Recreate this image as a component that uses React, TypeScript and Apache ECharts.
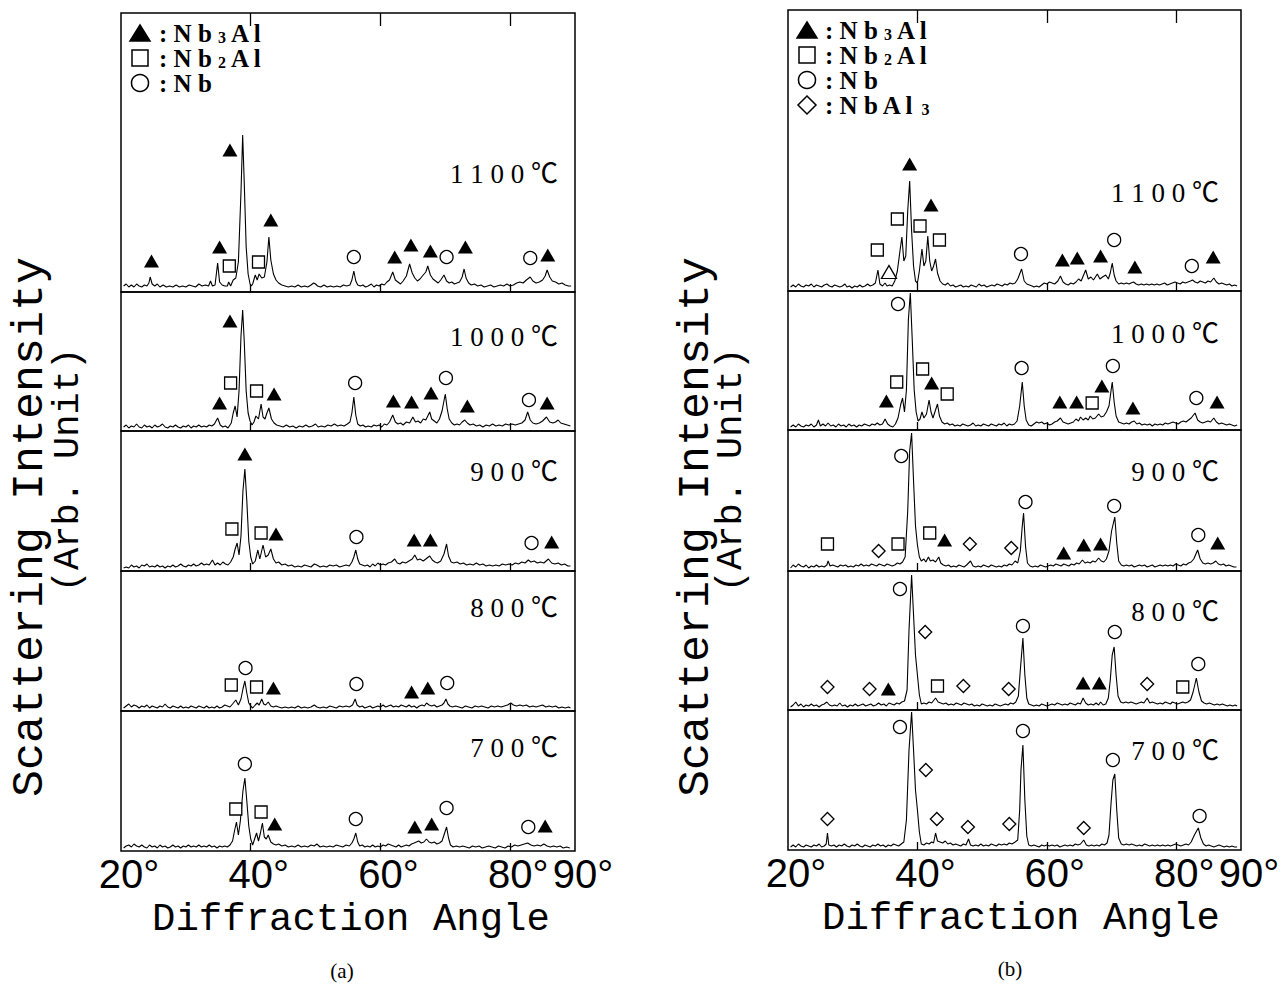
import React, { useEffect, useRef } from 'react';
import * as echarts from 'echarts';

// ---------- tick labels ----------
const TICK_VALUES = [40, 60, 80];
const LABEL_VALUES = [20, 40, 60, 80, 90];

// ---------- temperature labels ----------
const TEMPS_A = ['1 1 0 0 ℃', '1 0 0 0 ℃', '9 0 0 ℃', '8 0 0 ℃', '7 0 0 ℃'];
const TEMPS_B = ['1 1 0 0 ℃', '1 0 0 0 ℃', '9 0 0 ℃', '8 0 0 ℃', '7 0 0 ℃'];

// ---------- panel (a) curves: [angle, intensity] ----------
const a1100Curve = [[20.4,6],[20.8,8],[21.2,5],[21.6,7],[22.0,5],[22.4,8],[22.8,6],[23.2,5],[23.6,7],[24.0,6],[24.3,9],[24.5,15],[24.8,8],[25.2,6],[25.6,8],[26.0,5],[26.5,7],[27.0,5],[27.5,6],[28.0,5],[28.5,7],[29.0,5],[29.5,6],[30.0,5],[30.5,7],[31.0,6],[31.5,5],[32.0,8],[32.5,6],[33.0,7],[33.5,6],[33.8,11],[34.1,6],[34.5,7],[34.9,29],[35.2,10],[35.6,7],[36.0,6],[36.4,6],[36.6,10],[36.9,6],[37.3,12],[37.7,14],[38.1,30],[38.5,100],[38.76,157],[39.0,110],[39.3,45],[39.6,18],[39.9,8],[40.1,6],[40.3,8],[40.7,17],[41.0,12],[41.3,18],[41.7,14],[42.1,15],[42.5,30],[42.8,55],[43.1,32],[43.5,18],[43.9,12],[44.3,9],[44.8,7],[45.3,6],[45.8,5],[46.3,6],[46.8,5],[47.3,7],[47.8,5],[48.3,6],[48.8,5],[49.3,7],[49.7,9],[50.0,8],[50.3,6],[50.8,5],[51.3,7],[51.8,5],[52.3,6],[52.8,5],[53.3,6],[53.8,5],[54.3,7],[54.8,6],[55.3,7],[55.6,12],[55.9,21],[56.2,11],[56.5,7],[56.9,6],[57.3,7],[57.7,5],[58.1,6],[58.6,8],[59.0,5],[59.4,7],[59.8,6],[60.2,8],[60.6,7],[61.0,10],[61.4,12],[61.9,20],[62.3,12],[62.7,10],[63.1,8],[63.5,11],[64.0,16],[64.5,28],[64.9,19],[65.3,14],[65.7,11],[66.1,13],[66.6,17],[67.0,20],[67.3,26],[67.7,17],[68.1,13],[68.5,11],[68.9,9],[69.3,12],[69.8,17],[70.2,11],[70.6,9],[71.0,10],[71.4,8],[71.8,9],[72.2,10],[72.6,15],[72.9,23],[73.2,14],[73.6,9],[74.0,7],[74.5,8],[75.0,6],[75.5,7],[76.0,5],[76.5,6],[77.0,7],[77.5,5],[78.0,6],[78.5,7],[79.0,6],[79.5,8],[80.0,6],[80.5,7],[81.0,9],[81.5,10],[82.0,9],[82.5,12],[83.1,15],[83.5,11],[84.0,9],[84.5,10],[85.0,12],[85.4,16],[85.7,22],[86.1,15],[86.5,11],[87.0,10],[87.5,8],[88.0,9],[88.5,7],[89.0,6],[89.4,6]];
const a1000Curve = [[20.4,4],[20.8,6],[21.2,3],[21.6,5],[22.0,4],[22.4,7],[22.8,4],[23.2,3],[23.6,6],[24.0,4],[24.4,5],[24.8,3],[25.2,6],[25.6,4],[26.0,5],[26.4,7],[26.8,4],[27.2,3],[27.6,5],[28.0,4],[28.4,6],[28.8,4],[29.2,3],[29.6,5],[30.0,4],[30.4,6],[30.8,3],[31.2,5],[31.6,4],[32.0,6],[32.4,4],[32.8,5],[33.2,4],[33.6,6],[34.0,5],[34.4,7],[34.9,13],[35.3,6],[35.7,4],[36.1,5],[36.5,3],[37.0,8],[37.3,18],[37.6,25],[37.9,14],[38.2,40],[38.5,95],[38.76,121],[39.0,90],[39.3,40],[39.6,18],[39.9,10],[40.2,6],[40.5,9],[40.8,15],[41.2,12],[41.6,27],[41.9,14],[42.2,12],[42.5,18],[42.8,23],[43.2,12],[43.6,8],[44.0,6],[44.5,5],[45.0,4],[45.5,6],[46.0,4],[46.5,5],[47.0,3],[47.5,5],[48.0,4],[48.5,6],[49.0,4],[49.5,5],[50.0,7],[50.4,4],[50.9,5],[51.4,4],[51.9,6],[52.4,5],[52.9,7],[53.4,5],[53.9,6],[54.4,5],[54.9,7],[55.3,9],[55.6,18],[55.9,34],[56.2,16],[56.5,7],[56.9,5],[57.3,6],[57.7,4],[58.1,5],[58.6,4],[59.0,6],[59.4,5],[59.8,6],[60.2,4],[60.6,7],[61.0,6],[61.4,9],[61.9,16],[62.3,9],[62.7,7],[63.1,8],[63.5,6],[64.0,9],[64.5,8],[65.0,14],[65.4,9],[65.8,10],[66.2,8],[66.6,12],[67.0,11],[67.3,15],[67.6,19],[67.9,12],[68.3,10],[68.7,8],[69.1,12],[69.5,20],[70.0,37],[70.3,22],[70.6,12],[71.0,8],[71.4,6],[71.8,7],[72.2,6],[72.6,9],[73.0,11],[73.4,8],[73.8,6],[74.3,7],[74.8,5],[75.3,6],[75.8,4],[76.3,6],[76.8,5],[77.3,7],[77.8,5],[78.3,6],[78.8,5],[79.3,7],[79.8,6],[80.3,7],[80.8,6],[81.3,7],[81.8,8],[82.3,11],[82.7,19],[83.1,11],[83.5,8],[84.0,7],[84.5,8],[85.0,10],[85.6,14],[86.1,9],[86.6,8],[87.0,9],[87.4,11],[87.8,8],[88.3,7],[88.8,6],[89.3,5]];
const a900Curve = [[20.4,3],[20.8,4],[21.2,3],[21.6,6],[22.0,4],[22.4,5],[22.8,3],[23.2,6],[23.6,5],[24.0,7],[24.4,4],[24.8,5],[25.2,4],[25.6,6],[26.0,4],[26.4,5],[26.8,3],[27.2,5],[27.6,4],[28.0,6],[28.4,4],[28.8,5],[29.2,7],[29.6,5],[30.0,4],[30.4,6],[30.8,5],[31.2,7],[31.6,5],[32.0,6],[32.4,8],[32.8,6],[33.2,7],[33.6,6],[34.1,11],[34.5,6],[34.9,8],[35.3,6],[35.7,9],[36.1,7],[36.5,6],[36.9,9],[37.3,14],[37.6,22],[37.9,28],[38.2,16],[38.5,35],[38.8,80],[39.1,102],[39.4,70],[39.7,30],[40.0,14],[40.3,7],[40.7,10],[41.1,21],[41.4,12],[41.9,26],[42.3,14],[42.7,16],[43.1,22],[43.5,12],[43.9,8],[44.3,9],[44.8,6],[45.3,7],[45.8,5],[46.3,6],[46.8,4],[47.3,5],[47.8,4],[48.3,6],[48.8,5],[49.3,4],[49.8,7],[50.2,6],[50.7,4],[51.2,5],[51.7,4],[52.2,6],[52.7,5],[53.2,6],[53.7,4],[54.2,5],[54.7,6],[55.2,5],[55.6,9],[55.9,14],[56.2,21],[56.5,12],[56.8,7],[57.2,6],[57.6,5],[58.0,6],[58.4,4],[58.8,7],[59.2,5],[59.6,8],[60.0,6],[60.4,7],[60.8,6],[61.2,8],[61.7,9],[62.2,12],[62.6,8],[63.0,7],[63.4,9],[63.9,8],[64.4,10],[64.9,12],[65.3,16],[65.7,11],[66.1,12],[66.6,10],[67.0,12],[67.6,15],[68.0,11],[68.4,9],[68.8,8],[69.3,10],[69.8,17],[70.2,27],[70.5,15],[70.9,9],[71.3,8],[71.8,9],[72.3,7],[72.8,8],[73.3,6],[73.8,7],[74.3,6],[74.8,8],[75.3,6],[75.8,7],[76.3,5],[76.8,6],[77.3,5],[77.8,6],[78.3,5],[78.8,7],[79.3,6],[79.8,7],[80.3,6],[80.8,8],[81.3,7],[81.8,9],[82.3,8],[82.8,11],[83.2,9],[83.7,10],[84.2,8],[84.7,9],[85.2,8],[85.9,12],[86.4,8],[86.9,7],[87.4,8],[87.9,6],[88.4,7],[88.9,5],[89.3,5]];
const a800Curve = [[20.4,3],[20.8,5],[21.2,7],[21.6,4],[22.0,6],[22.4,5],[22.8,3],[23.2,5],[23.6,4],[24.0,6],[24.4,3],[24.8,5],[25.2,4],[25.6,3],[26.0,5],[26.4,4],[26.8,7],[27.2,4],[27.6,3],[28.0,5],[28.4,4],[28.8,3],[29.2,5],[29.6,3],[30.0,4],[30.4,3],[30.8,5],[31.2,4],[31.6,3],[32.0,5],[32.4,4],[32.8,3],[33.2,5],[33.6,3],[34.0,4],[34.4,3],[34.8,5],[35.2,3],[35.6,4],[36.0,6],[36.4,5],[36.8,4],[37.2,7],[37.7,11],[38.1,6],[38.5,12],[38.8,22],[39.1,30],[39.4,18],[39.7,8],[40.0,5],[40.3,3],[40.7,6],[41.0,8],[41.3,6],[41.7,12],[42.0,7],[42.3,6],[42.7,9],[43.1,5],[43.5,4],[43.9,5],[44.3,4],[44.8,3],[45.3,4],[45.8,3],[46.3,4],[46.8,3],[47.3,5],[47.8,3],[48.3,4],[48.8,3],[49.3,4],[49.8,6],[50.2,4],[50.7,3],[51.2,4],[51.7,3],[52.2,5],[52.7,4],[53.2,3],[53.7,5],[54.2,4],[54.7,5],[55.2,4],[55.7,6],[56.1,12],[56.4,6],[56.8,4],[57.2,5],[57.6,3],[58.0,4],[58.4,5],[58.8,3],[59.2,4],[59.6,5],[60.0,4],[60.4,6],[60.8,4],[61.2,5],[61.6,6],[62.0,4],[62.4,5],[62.8,4],[63.2,6],[63.6,5],[64.0,4],[64.4,6],[64.8,4],[65.2,5],[65.6,3],[66.0,5],[66.4,6],[66.8,5],[67.1,8],[67.5,6],[67.9,5],[68.3,6],[68.7,4],[69.1,5],[69.5,6],[69.8,8],[70.1,12],[70.4,7],[70.7,5],[71.1,4],[71.6,5],[72.1,4],[72.6,3],[73.1,5],[73.6,4],[74.1,3],[74.6,5],[75.1,4],[75.6,5],[76.1,4],[76.6,3],[77.1,5],[77.6,4],[78.1,5],[78.6,4],[79.1,5],[79.6,6],[80.1,8],[80.5,6],[81.0,5],[81.5,6],[82.0,5],[82.5,6],[83.0,4],[83.5,5],[84.0,4],[84.5,5],[85.0,6],[85.5,4],[86.0,5],[86.5,4],[87.0,5],[87.5,3],[88.0,4],[88.5,3],[89.0,4],[89.3,3]];
const a700Curve = [[20.4,3],[20.8,5],[21.2,6],[21.6,4],[22.0,7],[22.4,5],[22.8,4],[23.2,6],[23.6,4],[24.0,3],[24.4,6],[24.8,4],[25.2,5],[25.6,3],[26.0,6],[26.4,4],[26.8,5],[27.2,3],[27.6,4],[28.0,6],[28.4,4],[28.8,5],[29.2,3],[29.6,5],[30.0,4],[30.4,6],[30.8,4],[31.2,5],[31.6,4],[32.0,6],[32.4,4],[32.8,5],[33.2,4],[33.6,6],[34.0,4],[34.4,5],[34.8,3],[35.2,5],[35.6,4],[36.0,5],[36.4,4],[36.8,6],[37.2,10],[37.5,20],[37.8,29],[38.1,16],[38.4,30],[38.8,60],[39.1,73],[39.4,50],[39.7,25],[40.0,12],[40.3,6],[40.6,12],[40.9,18],[41.2,10],[41.5,18],[41.8,28],[42.1,14],[42.4,12],[42.7,16],[43.1,9],[43.5,7],[43.9,6],[44.3,7],[44.8,5],[45.3,6],[45.8,4],[46.3,5],[46.8,4],[47.3,6],[47.8,4],[48.3,5],[48.8,4],[49.3,6],[49.8,5],[50.2,7],[50.7,4],[51.2,5],[51.7,4],[52.2,5],[52.7,4],[53.2,6],[53.7,5],[54.2,4],[54.7,6],[55.2,5],[55.6,8],[55.9,12],[56.2,18],[56.5,9],[56.8,5],[57.2,6],[57.6,4],[58.0,5],[58.4,4],[58.8,6],[59.2,4],[59.6,5],[60.0,4],[60.4,6],[60.8,5],[61.2,7],[61.6,6],[62.0,5],[62.4,4],[62.8,6],[63.2,4],[63.6,5],[64.0,6],[64.4,5],[64.8,7],[65.2,8],[65.9,10],[66.3,8],[66.7,9],[67.1,12],[67.5,9],[67.9,8],[68.3,9],[68.7,7],[69.1,8],[69.5,10],[69.9,18],[70.2,24],[70.5,13],[70.8,6],[71.2,4],[71.7,5],[72.2,4],[72.7,5],[73.2,4],[73.7,3],[74.2,5],[74.7,4],[75.2,5],[75.7,3],[76.2,4],[76.7,5],[77.2,4],[77.7,3],[78.2,5],[78.7,4],[79.2,3],[79.7,5],[80.2,4],[80.7,6],[81.2,5],[81.7,6],[82.2,7],[82.7,8],[83.2,6],[83.7,5],[84.2,6],[84.7,5],[85.2,7],[85.7,5],[86.2,4],[86.7,5],[87.2,4],[87.7,5],[88.2,3],[88.7,4],[89.2,3]];

// ---------- panel (b) curves ----------
const b1100Curve = [[20.4,4],[20.8,6],[21.2,4],[21.6,7],[22.0,5],[22.4,4],[22.8,6],[23.2,5],[23.6,7],[24.0,4],[24.4,6],[24.8,5],[25.2,4],[25.6,6],[26.0,7],[26.4,5],[26.8,4],[27.2,6],[27.6,5],[28.0,4],[28.4,5],[28.8,7],[29.1,4],[29.5,5],[29.9,3],[30.3,5],[30.7,4],[31.1,6],[31.5,4],[31.9,5],[32.3,7],[32.7,5],[33.1,6],[33.5,8],[33.9,21],[34.2,7],[34.6,5],[35.0,8],[35.3,5],[35.7,6],[36.1,5],[36.5,10],[36.9,20],[37.3,40],[37.6,54],[37.9,30],[38.2,35],[38.5,80],[38.8,110],[39.1,60],[39.4,25],[39.7,10],[40.0,8],[40.3,20],[40.7,42],[41.0,25],[41.3,30],[41.6,55],[41.9,30],[42.2,20],[42.5,25],[42.8,32],[43.1,18],[43.5,10],[43.9,7],[44.3,6],[44.7,8],[45.1,5],[45.5,6],[45.9,4],[46.3,5],[46.7,6],[47.1,4],[47.5,5],[47.9,4],[48.3,6],[48.7,5],[49.1,4],[49.5,7],[49.9,5],[50.3,6],[50.7,4],[51.1,5],[51.5,6],[51.9,5],[52.3,7],[52.7,6],[53.1,5],[53.5,7],[53.9,6],[54.3,8],[54.7,7],[55.1,8],[55.5,12],[56.1,22],[56.5,10],[56.9,7],[57.3,6],[57.7,5],[58.0,4],[58.4,5],[58.8,4],[59.2,6],[59.6,8],[60.0,7],[60.4,9],[60.8,8],[61.2,7],[61.7,10],[62.1,15],[62.5,9],[62.9,7],[63.3,6],[63.7,8],[64.1,7],[64.5,9],[64.9,12],[65.3,10],[66.0,21],[66.4,12],[66.8,14],[67.2,11],[67.8,17],[68.2,12],[68.6,14],[69.1,16],[69.5,12],[69.8,18],[70.1,28],[70.4,16],[70.7,10],[71.1,7],[71.5,8],[71.9,7],[72.3,8],[72.7,7],[73.0,8],[73.4,9],[73.8,7],[74.2,6],[74.6,7],[75.0,6],[75.4,7],[75.8,6],[76.2,7],[76.6,6],[77.0,7],[77.4,6],[77.8,7],[78.2,8],[78.6,6],[79.0,7],[79.4,8],[79.8,9],[80.2,8],[80.6,7],[81.0,9],[81.4,8],[81.8,9],[82.2,10],[82.5,11],[82.9,9],[83.3,8],[83.7,10],[84.1,9],[84.5,8],[84.9,10],[85.3,9],[85.8,13],[86.2,9],[86.6,7],[87.0,8],[87.4,7],[87.8,6],[88.2,7],[88.6,5],[89.0,6],[89.4,5]];
const b1000Curve = [[20.4,3],[20.8,5],[21.2,3],[21.6,6],[22.0,4],[22.4,3],[22.8,5],[23.2,4],[23.6,6],[24.0,3],[24.4,5],[24.7,10],[25.0,4],[25.4,6],[25.8,4],[26.2,7],[26.6,4],[27.0,5],[27.4,3],[27.8,6],[28.2,4],[28.6,5],[29.0,3],[29.4,6],[29.8,4],[30.2,5],[30.6,3],[31.0,5],[31.4,4],[31.8,6],[32.2,5],[32.6,4],[33.0,6],[33.4,5],[33.8,7],[34.2,5],[34.6,6],[35.0,11],[35.4,6],[35.8,4],[36.2,3],[36.6,6],[37.0,12],[37.4,25],[37.7,32],[38.0,18],[38.3,40],[38.6,110],[38.9,137],[39.2,90],[39.5,40],[39.8,18],[40.1,9],[40.4,11],[40.7,18],[41.0,12],[41.4,16],[41.8,30],[42.1,18],[42.4,12],[42.8,20],[43.1,26],[43.4,14],[43.8,8],[44.2,6],[44.6,7],[45.0,5],[45.4,6],[45.8,4],[46.2,5],[46.6,4],[47.0,6],[47.4,5],[47.8,4],[48.2,5],[48.6,7],[49.0,4],[49.4,5],[49.8,4],[50.2,6],[50.6,5],[51.0,4],[51.4,6],[51.8,5],[52.2,4],[52.6,6],[53.0,5],[53.4,7],[53.8,4],[54.2,6],[54.6,5],[55.0,6],[55.4,9],[55.8,24],[56.2,48],[56.5,24],[56.8,10],[57.2,5],[57.6,4],[58.0,6],[58.4,8],[58.8,7],[59.2,8],[59.6,6],[60.0,7],[60.4,5],[60.8,6],[61.2,8],[61.6,9],[62.1,12],[62.5,8],[62.9,7],[63.3,6],[63.7,7],[64.1,8],[64.5,11],[64.9,9],[65.2,13],[65.6,10],[66.0,12],[66.4,10],[66.7,14],[67.1,11],[67.5,12],[68.0,16],[68.4,13],[68.8,14],[69.2,18],[69.6,24],[70.1,48],[70.4,28],[70.7,14],[71.1,8],[71.5,7],[71.9,6],[72.3,7],[72.7,6],[73.1,8],[73.5,9],[73.9,6],[74.3,7],[74.7,5],[75.1,6],[75.5,5],[75.9,6],[76.3,4],[76.7,6],[77.1,5],[77.5,6],[77.9,5],[78.3,7],[78.7,6],[79.1,7],[79.5,8],[79.9,7],[80.3,6],[80.7,8],[81.1,9],[81.5,8],[81.9,10],[82.3,12],[82.9,17],[83.3,10],[83.7,8],[84.1,7],[84.5,8],[84.9,9],[85.3,8],[85.8,12],[86.2,8],[86.6,6],[87.0,7],[87.4,6],[87.8,5],[88.2,6],[88.6,5],[89.0,4],[89.4,5]];
const b900Curve = [[20.4,3],[20.8,6],[21.2,4],[21.6,7],[22.0,5],[22.4,4],[22.8,6],[23.2,3],[23.6,5],[24.0,4],[24.4,6],[24.8,4],[25.2,5],[25.6,4],[26.0,6],[26.2,10],[26.5,5],[26.9,6],[27.3,5],[27.7,4],[28.1,6],[28.5,5],[28.9,6],[29.3,4],[29.7,5],[30.1,4],[30.5,6],[30.9,5],[31.3,7],[31.7,5],[32.1,6],[32.5,5],[32.9,7],[33.3,6],[33.7,5],[34.1,7],[34.5,6],[34.9,5],[35.3,7],[35.7,6],[36.1,5],[36.5,6],[36.9,8],[37.3,7],[37.7,9],[38.1,14],[38.5,60],[38.8,120],[39.1,138],[39.4,90],[39.7,45],[40.0,26],[40.3,14],[40.6,10],[41.0,12],[41.3,9],[41.7,14],[42.0,10],[42.4,11],[42.8,9],[43.3,14],[43.6,8],[44.0,6],[44.4,5],[44.8,6],[45.2,4],[45.6,5],[46.0,4],[46.4,6],[46.8,5],[47.2,4],[47.6,6],[48.2,10],[48.6,5],[49.0,4],[49.4,5],[49.8,4],[50.2,6],[50.6,5],[51.0,4],[51.4,6],[51.8,5],[52.2,4],[52.6,5],[53.0,4],[53.4,6],[53.8,5],[54.2,7],[54.6,6],[55.1,10],[55.5,8],[55.9,20],[56.2,45],[56.4,58],[56.7,25],[57.0,8],[57.4,5],[57.8,4],[58.2,5],[58.6,4],[59.0,6],[59.4,5],[59.8,4],[60.2,5],[60.6,6],[61.0,5],[61.4,7],[61.8,6],[62.2,5],[62.6,7],[63.0,6],[63.4,5],[63.8,7],[64.2,6],[64.6,8],[65.0,7],[65.5,11],[65.9,8],[66.3,9],[66.7,8],[67.1,10],[67.5,9],[68.0,13],[68.4,10],[68.8,9],[69.2,12],[69.6,20],[70.0,40],[70.5,54],[70.8,28],[71.1,10],[71.5,6],[71.9,5],[72.3,6],[72.7,5],[73.1,6],[73.5,4],[73.9,5],[74.3,6],[74.7,5],[75.1,6],[75.5,4],[75.9,5],[76.3,6],[76.7,4],[77.1,5],[77.5,6],[77.9,5],[78.3,6],[78.7,5],[79.1,6],[79.5,5],[79.9,7],[80.3,6],[80.7,5],[81.1,7],[81.5,6],[81.9,8],[82.3,9],[82.7,12],[83.3,21],[83.7,12],[84.1,8],[84.5,7],[84.9,8],[85.3,7],[85.7,8],[86.1,10],[86.5,7],[86.9,6],[87.3,7],[87.7,5],[88.1,6],[88.5,5],[88.9,4],[89.3,4]];
const b800Curve = [[20.4,3],[20.8,5],[21.2,8],[21.6,4],[22.0,6],[22.4,3],[22.8,5],[23.2,4],[23.6,6],[24.0,4],[24.4,5],[24.8,3],[25.2,5],[25.6,6],[26.0,8],[26.4,5],[26.8,4],[27.2,5],[27.6,4],[28.0,7],[28.4,4],[28.8,5],[29.2,3],[29.6,5],[30.0,4],[30.4,6],[30.8,4],[31.2,5],[31.6,6],[32.0,4],[32.4,5],[32.8,6],[33.2,4],[33.6,5],[34.0,7],[34.4,5],[34.8,6],[35.2,4],[35.6,7],[36.0,6],[36.4,5],[36.8,7],[37.2,6],[37.6,8],[38.0,9],[38.4,20],[38.7,80],[39.1,135],[39.4,95],[39.7,55],[40.0,35],[40.3,15],[40.6,6],[41.0,7],[41.4,6],[41.8,8],[42.2,7],[42.8,12],[43.2,8],[43.6,7],[44.0,6],[44.4,7],[44.8,5],[45.2,6],[45.6,5],[46.0,7],[46.4,6],[46.8,5],[47.2,7],[47.6,6],[48.0,5],[48.4,6],[48.8,4],[49.2,5],[49.6,4],[50.0,6],[50.4,5],[50.8,4],[51.2,5],[51.6,4],[52.0,6],[52.4,5],[52.8,4],[53.2,5],[53.6,6],[54.0,5],[54.4,7],[54.8,6],[55.2,8],[55.6,14],[55.9,40],[56.3,72],[56.6,35],[56.9,12],[57.2,6],[57.6,5],[58.0,4],[58.4,5],[58.8,4],[59.2,6],[59.6,5],[60.0,4],[60.4,5],[60.8,6],[61.2,5],[61.6,7],[62.0,6],[62.4,5],[62.8,6],[63.2,5],[63.6,7],[64.0,6],[64.4,5],[64.8,7],[65.2,6],[65.6,12],[66.0,7],[66.4,5],[66.8,6],[67.2,5],[67.6,7],[68.0,5],[68.3,8],[68.7,5],[69.1,6],[69.5,12],[69.8,30],[70.1,55],[70.4,63],[70.7,35],[71.0,14],[71.4,8],[71.8,7],[72.2,8],[72.6,7],[73.0,8],[73.4,7],[73.8,6],[74.2,7],[74.6,8],[75.0,7],[75.5,12],[75.9,7],[76.3,8],[76.7,7],[77.1,6],[77.5,7],[77.9,6],[78.3,8],[78.7,7],[79.1,6],[79.4,8],[79.8,7],[80.2,6],[80.6,7],[81.0,8],[81.4,7],[81.8,8],[82.2,10],[82.6,18],[83.1,32],[83.5,18],[83.9,9],[84.3,7],[84.7,6],[85.1,7],[85.5,6],[85.9,5],[86.3,6],[86.7,5],[87.1,6],[87.5,5],[87.9,4],[88.3,5],[88.7,4],[89.1,5],[89.4,4]];
const b700Curve = [[20.4,3],[20.8,5],[21.2,3],[21.6,6],[22.0,4],[22.4,3],[22.8,5],[23.2,4],[23.6,3],[24.0,5],[24.4,4],[24.8,6],[25.2,3],[25.6,4],[25.9,6],[26.1,17],[26.3,5],[26.7,4],[27.1,5],[27.5,3],[27.9,5],[28.3,4],[28.7,6],[29.1,4],[29.5,3],[29.9,5],[30.3,4],[30.7,6],[31.1,4],[31.5,3],[31.9,5],[32.3,4],[32.7,3],[33.1,5],[33.5,4],[33.9,6],[34.3,4],[34.7,5],[35.1,3],[35.5,5],[35.9,4],[36.3,6],[36.7,5],[37.1,4],[37.5,6],[37.9,8],[38.3,30],[38.7,100],[39.1,138],[39.4,100],[39.7,60],[40.0,40],[40.3,18],[40.6,6],[41.0,5],[41.4,7],[41.8,6],[42.2,8],[42.5,7],[42.8,17],[43.1,9],[43.5,8],[43.9,7],[44.3,9],[44.7,6],[45.1,7],[45.5,5],[45.9,6],[46.3,5],[46.7,4],[47.1,6],[47.5,5],[47.9,11],[48.2,5],[48.6,4],[49.0,5],[49.4,4],[49.8,6],[50.2,4],[50.6,5],[51.0,4],[51.4,6],[51.8,5],[52.2,4],[52.6,6],[53.0,5],[53.4,6],[53.8,5],[54.2,7],[54.6,6],[55.1,8],[55.5,10],[55.8,40],[56.0,80],[56.3,105],[56.6,50],[56.9,14],[57.2,5],[57.6,4],[58.0,5],[58.4,4],[58.8,3],[59.2,5],[59.6,4],[60.0,5],[60.4,4],[60.8,5],[61.2,4],[61.6,5],[62.0,3],[62.4,4],[62.8,5],[63.2,4],[63.6,5],[64.0,4],[64.4,6],[64.8,5],[65.2,6],[65.7,10],[66.1,5],[66.5,4],[66.9,5],[67.3,4],[67.7,5],[68.1,4],[68.5,6],[68.9,5],[69.3,7],[69.6,15],[69.9,45],[70.2,70],[70.5,76],[70.8,40],[71.1,12],[71.5,6],[71.9,5],[72.3,6],[72.7,5],[73.1,6],[73.5,5],[73.9,4],[74.3,5],[74.7,4],[75.1,6],[75.5,5],[75.9,4],[76.3,5],[76.7,4],[77.1,5],[77.5,4],[77.9,5],[78.3,4],[78.7,5],[79.1,4],[79.5,5],[79.9,6],[80.3,5],[80.7,4],[81.1,5],[81.5,6],[81.9,5],[82.3,8],[82.8,15],[83.4,22],[83.8,12],[84.2,6],[84.6,4],[85.0,5],[85.4,4],[85.8,3],[86.2,4],[86.6,5],[87.0,4],[87.4,3],[87.8,4],[88.2,3],[88.6,4],[89.0,3],[89.4,3]];

// ---------- phase markers: [angle, height] ----------
const a1100Tri = [[24.7,31],[35.2,45],[36.8,142],[43.1,72],[62.2,35],[64.7,47],[67.7,41],[73.1,45],[85.8,37]];
const a1100Sq = [[36.7,26],[41.2,30]];
const a1100Circ = [[55.9,35],[70.2,35],[83.1,34]];
const a1000Tri = [[35.2,28],[36.8,110],[43.6,37],[62.0,30],[64.8,29],[67.8,38],[73.4,25],[85.7,28]];
const a1000Sq = [[36.9,48],[40.9,40]];
const a1000Circ = [[56.1,48],[70.1,53],[82.9,31]];
const a900Tri = [[39.1,117],[43.9,37],[65.2,31],[67.7,31],[86.4,29]];
const a900Sq = [[37.1,42],[41.6,38]];
const a900Circ = [[56.3,34],[83.3,28]];
const a800Tri = [[43.5,23],[64.8,19],[67.3,23]];
const a800Sq = [[37.0,26],[40.9,24]];
const a800Circ = [[39.2,43],[56.3,27],[70.3,28]];
const a700Tri = [[43.7,27],[65.3,24],[67.9,27],[85.4,25]];
const a700Sq = [[37.7,42],[41.6,39]];
const a700Circ = [[39.1,87],[56.2,32],[70.2,43],[82.8,24]];

const b1100Tri = [[38.8,127],[42.1,86],[62.4,31],[64.7,33],[68.3,35],[73.6,24],[85.7,34]];
const b1100Sq = [[33.8,41],[36.9,72],[40.4,65],[43.4,51]];
const b1100Circ = [[56.0,37],[70.4,51],[82.4,25]];
const b1100OpenTri = [[35.6,19]];
const b1000Tri = [[35.2,29],[42.2,47],[62.0,28],[64.6,28],[68.5,44],[73.3,22],[86.3,28]];
const b1000Sq = [[36.8,48],[40.8,61],[44.6,36],[67.0,27]];
const b1000Circ = [[37.0,126],[56.1,62],[70.2,64],[83.1,32]];
const b900Tri = [[44.2,31],[62.6,18],[65.7,26],[68.3,27],[86.4,28]];
const b900Sq = [[26.1,27],[37.0,27],[41.9,38]];
const b900Circ = [[37.5,115],[56.7,69],[70.4,65],[83.4,36]];
const b900Dia = [[34.0,20],[48.1,27],[54.5,23]];
const b800Tri = [[35.5,21],[65.6,27],[68.1,27]];
const b800Sq = [[43.1,24],[81.0,23]];
const b800Circ = [[37.3,121],[56.3,84],[70.5,78],[83.4,46]];
const b800Dia = [[26.1,23],[32.6,21],[41.2,78],[47.1,24],[54.1,21],[75.5,26]];
const b700Circ = [[37.3,123],[56.3,119],[70.2,90],[83.6,34]];
const b700Dia = [[26.1,31],[41.3,80],[43.0,31],[47.8,23],[54.2,26],[65.7,22]];

// ---------- assembly ----------
type Sub = { curve: number[][]; tri?: number[][]; otri?: number[][]; sq?: number[][]; circ?: number[][]; dia?: number[][] };

const PANELS: Sub[][] = [
  [
    { curve: a1100Curve, tri: a1100Tri, sq: a1100Sq, circ: a1100Circ },
    { curve: a1000Curve, tri: a1000Tri, sq: a1000Sq, circ: a1000Circ },
    { curve: a900Curve, tri: a900Tri, sq: a900Sq, circ: a900Circ },
    { curve: a800Curve, tri: a800Tri, sq: a800Sq, circ: a800Circ },
    { curve: a700Curve, tri: a700Tri, sq: a700Sq, circ: a700Circ },
  ],
  [
    { curve: b1100Curve, tri: b1100Tri, sq: b1100Sq, circ: b1100Circ, otri: b1100OpenTri },
    { curve: b1000Curve, tri: b1000Tri, sq: b1000Sq, circ: b1000Circ },
    { curve: b900Curve, tri: b900Tri, sq: b900Sq, circ: b900Circ, dia: b900Dia },
    { curve: b800Curve, tri: b800Tri, sq: b800Sq, circ: b800Circ, dia: b800Dia },
    { curve: b700Curve, circ: b700Circ, dia: b700Dia },
  ],
];

const LAYOUT = [
  { left: 121, width: 454, tops: [13, 292, 431, 571, 711], heights: [279, 139, 140, 140, 140], tempX: 558, tempY: [174, 337, 472, 608, 748], temps: TEMPS_A },
  { left: 788, width: 453, tops: [10, 291, 430, 571, 710], heights: [281, 139, 141, 139, 140], tempX: 1219, tempY: [193, 334, 472, 612, 751], temps: TEMPS_B },
];

const MARKERS: Record<string, { symbol: string; size: any; fill: string }> = {
  tri: { symbol: 'triangle', size: [15, 13], fill: '#000' },
  otri: { symbol: 'triangle', size: [15, 13], fill: '#fff' },
  sq: { symbol: 'rect', size: 12, fill: '#fff' },
  circ: { symbol: 'circle', size: 13, fill: '#fff' },
  dia: { symbol: 'diamond', size: 13, fill: '#fff' },
};

const MONO = "'Liberation Mono', 'DejaVu Sans Mono', monospace";
const SERIF = "'Liberation Serif', 'DejaVu Serif', serif";
const TEMP_FONT = "'Liberation Serif', 'Noto Sans CJK JP', serif";

function legendItems(kind: string, cx: number, cy: number): any {
  const st = { fill: kind === 'tri' ? '#000' : '#fff', stroke: '#000', lineWidth: 1.5 };
  if (kind === 'tri') return { type: 'polygon', z: 100, shape: { points: [[cx - 10, cy + 8], [cx + 10, cy + 8], [cx, cy - 8]] }, style: st };
  if (kind === 'sq') return { type: 'rect', z: 100, shape: { x: cx - 8, y: cy - 8, width: 16, height: 16 }, style: st };
  if (kind === 'circ') return { type: 'circle', z: 100, shape: { cx, cy, r: 8.5 }, style: st };
  return { type: 'polygon', z: 100, shape: { points: [[cx, cy - 9], [cx + 9, cy], [cx, cy + 9], [cx - 9, cy]] }, style: st };
}

const LEGEND_A = [
  { kind: 'tri', text: ': N b {s|3} A l' },
  { kind: 'sq', text: ': N b {s|2} A l' },
  { kind: 'circ', text: ': N b' },
];
const LEGEND_B = [
  { kind: 'tri', text: ': N b {s|3} A l' },
  { kind: 'sq', text: ': N b {s|2} A l' },
  { kind: 'circ', text: ': N b' },
  { kind: 'dia', text: ': N b A l {s|3}' },
];

function text(x: number, y: number, str: string, font: any, extra: any = {}): any {
  return {
    type: 'text', z: 100, x, y, rotation: extra.rotation || 0,
    style: {
      text: str, x: 0, y: 0, fill: '#000',
      fontSize: font.size, fontFamily: font.family, fontWeight: font.weight || 'normal',
      align: extra.align || 'center', verticalAlign: extra.verticalAlign || 'middle',
      textAlign: extra.align || 'center', textVerticalAlign: extra.verticalAlign || 'middle',
      rich: extra.rich,
    },
  };
}

function buildOption(): any {
  const grid: any[] = [];
  const xAxis: any[] = [];
  const yAxis: any[] = [];
  const series: any[] = [];
  const graphic: any[] = [];

  LAYOUT.forEach((L, p) => {
    PANELS[p].forEach((d, k) => {
      const gi = grid.length;
      grid.push({ left: L.left, top: L.tops[k], width: L.width, height: L.heights[k], show: true, borderColor: '#000', borderWidth: 1.5, backgroundColor: 'rgba(0,0,0,0)' });
      const xi = xAxis.length;
      xAxis.push({
        gridIndex: gi, type: 'value', min: 20, max: 90, position: 'bottom',
        axisLine: { show: false }, splitLine: { show: false },
        axisTick: { show: true, inside: true, length: 8, customValues: TICK_VALUES, lineStyle: { color: '#000', width: 1.3 } },
        axisLabel: k === 4 ? {
          show: true, customValues: LABEL_VALUES, formatter: (v: number) => v + '°',
          color: '#000', fontFamily: "'Liberation Sans', Arial, sans-serif", fontSize: 40, margin: 3, padding: [0, 0, 0, 16],
        } : { show: false },
      });
      if (k === 0) {
        xAxis.push({
          gridIndex: gi, type: 'value', min: 20, max: 90, position: 'top',
          axisLine: { show: false }, splitLine: { show: false },
          axisTick: { show: true, inside: true, length: 13, customValues: TICK_VALUES, lineStyle: { color: '#000', width: 1.3 } },
          axisLabel: { show: false },
        });
      }
      const yi = yAxis.length;
      yAxis.push({ gridIndex: gi, type: 'value', min: 0, max: L.heights[k], show: false });

      series.push({
        type: 'line', xAxisIndex: xi, yAxisIndex: yi, data: d.curve, showSymbol: false, symbol: 'none',
        lineStyle: { color: '#000', width: 1.1 }, clip: true, silent: true, z: 2,
      });
      (['tri', 'otri', 'sq', 'circ', 'dia'] as const).forEach((kind) => {
        const pts = (d as any)[kind];
        if (!pts || !pts.length) return;
        const m = MARKERS[kind];
        series.push({
          type: 'scatter', xAxisIndex: xi, yAxisIndex: yi, data: pts, symbol: m.symbol, symbolSize: m.size,
          itemStyle: { color: m.fill, borderColor: '#000', borderWidth: m.fill === '#000' ? 0 : 1.3, opacity: 1 },
          silent: true, z: 5,
        });
      });

      graphic.push(text(L.tempX, L.tempY[k], L.temps[k], { size: 27, family: TEMP_FONT }, { align: 'right' }));
    });
  });

  // legends
  const rich = (size: number) => ({ s: { fontSize: Math.round(size * 0.62), fontFamily: SERIF, fontWeight: 'bold', verticalAlign: 'bottom', fill: '#000' } });
  LEGEND_A.forEach((row, i) => {
    const cy = 33 + i * 25;
    graphic.push(legendItems(row.kind, 140, cy));
    graphic.push(text(159, cy, row.text, { size: 25, family: SERIF, weight: 'bold' }, { align: 'left', rich: rich(25) }));
  });
  LEGEND_B.forEach((row, i) => {
    const cy = 30 + i * 25;
    graphic.push(legendItems(row.kind, 807, cy));
    graphic.push(text(825, cy, row.text, { size: 25, family: SERIF, weight: 'bold' }, { align: 'left', rich: rich(25) }));
  });

  // axis titles
  graphic.push(text(351, 920, 'Diffraction Angle', { size: 39, family: MONO }));
  graphic.push(text(1021, 919, 'Diffraction Angle', { size: 39, family: MONO }));
  graphic.push(text(30, 527, 'Scattering Intensity', { size: 45, family: MONO }, { rotation: Math.PI / 2 }));
  graphic.push(text(68, 470, '(Arb. Unit)', { size: 37, family: MONO }, { rotation: Math.PI / 2 }));
  graphic.push(text(696, 527, 'Scattering Intensity', { size: 45, family: MONO }, { rotation: Math.PI / 2 }));
  graphic.push(text(731, 470, '(Arb. Unit)', { size: 37, family: MONO }, { rotation: Math.PI / 2 }));

  // captions
  graphic.push(text(342, 971, '(a)', { size: 21, family: SERIF }));
  graphic.push(text(1010, 969, '(b)', { size: 21, family: SERIF }));

  return {
    animation: false,
    backgroundColor: '#fff',
    grid, xAxis, yAxis, series,
    graphic: { elements: graphic },
  };
}

export default function App() {
  const ref = useRef<HTMLDivElement>(null);
  useEffect(() => {
    if (!ref.current) return;
    const chart = echarts.init(ref.current, null, { renderer: 'svg' });
    chart.setOption(buildOption());
    return () => chart.dispose();
  }, []);
  return <div ref={ref} style={{ position: 'absolute', left: 0, top: 0, width: 1284, height: 990, background: '#fff' }} />;
}
